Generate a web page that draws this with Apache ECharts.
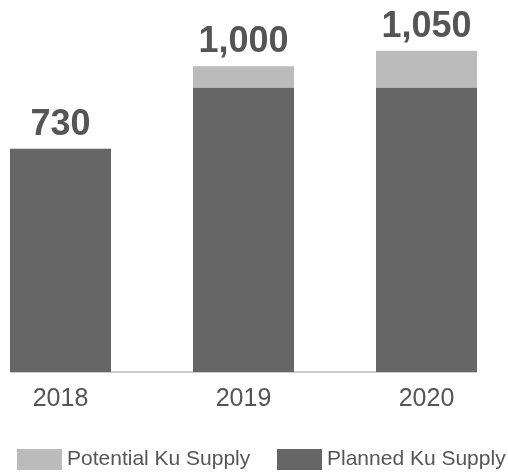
<!DOCTYPE html>
<html><head><meta charset="utf-8">
<script src="https://cdn.jsdelivr.net/npm/echarts@6/dist/echarts.min.js"></script>
<style>html,body{margin:0;padding:0;background:#fff}#c{width:508px;height:475px}</style>
</head><body><div id="c"></div>
<script>
var categories = ['2018', '2019', '2020'];
var planned = [730, 930, 930];
var potential = [0, 70, 120];
var totals = [730, 1000, 1050];
var totalLabels = ['730', '1,000', '1,050'];

var chart = echarts.init(document.getElementById('c'), null, {renderer: 'canvas'});
var legendText = {fontSize: 21, color: '#555'};
chart.setOption({
  animation: false,
  textStyle: {fontFamily: 'Liberation Sans, Arial, sans-serif'},
  grid: {left: 60.5, right: 81.5, top: 5, bottom: 103},
  legend: [{
    left: 17, top: 449, itemWidth: 45, itemHeight: 21, icon: 'rect', padding: 0,
    textStyle: legendText, data: ['Potential Ku Supply']
  }, {
    left: 277, top: 449, itemWidth: 45, itemHeight: 21, icon: 'rect', padding: 0,
    textStyle: legendText, data: ['Planned Ku Supply']
  }],
  xAxis: {
    type: 'category', data: categories, boundaryGap: false,
    axisLine: {show: false}, axisTick: {show: false},
    axisLabel: {fontSize: 25, color: '#555', margin: 15}
  },
  yAxis: {type: 'value', min: 0, max: 1200, show: false, splitLine: {show: false}},
  graphic: [{
    type: 'line', z: 0,
    shape: {x1: 10, y1: 372, x2: 477, y2: 372},
    style: {stroke: '#bbb', lineWidth: 1.5}
  }],
  series: [
    {name: 'Planned Ku Supply', type: 'bar', stack: 's', data: planned, barWidth: 101,
     itemStyle: {color: '#666666'}},
    {name: 'Potential Ku Supply', type: 'bar', stack: 's', data: potential, barWidth: 101,
     itemStyle: {color: '#bbbbbb'},
     label: {show: true, position: 'top', distance: 6, fontSize: 36, fontWeight: 'bold', color: '#555',
       formatter: function (p) { return totalLabels[p.dataIndex]; }}}
  ]
});
</script></body></html>
